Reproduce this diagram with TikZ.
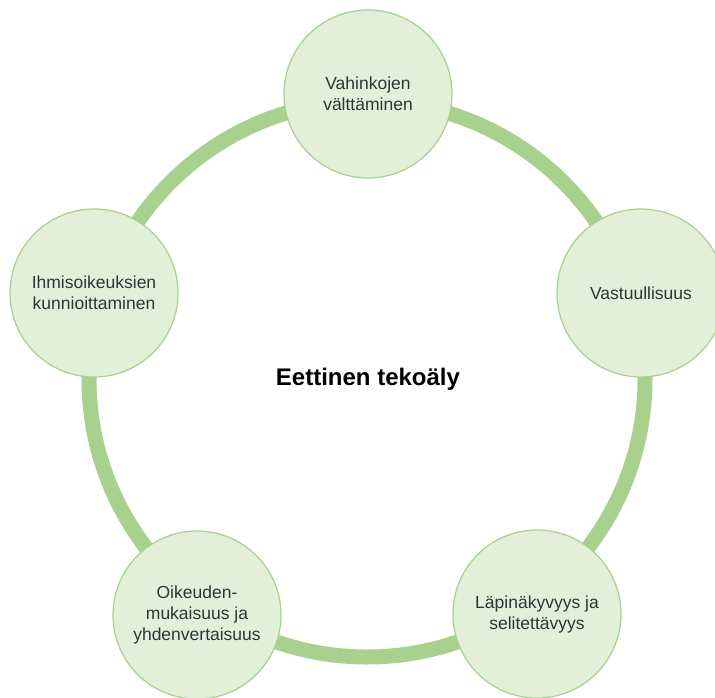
\documentclass[tikz,border=0pt]{standalone}
\usepackage{fontspec}
\setmainfont{Liberation Sans}
\definecolor{ringgreen}{HTML}{A9D18E}
\definecolor{nodefill}{HTML}{E2F0D9}
\definecolor{txtgray}{HTML}{333333}
\begin{document}
\begin{tikzpicture}[x=1pt,y=-1pt,
  topic/.style={circle, minimum size=168pt, inner sep=0pt, fill=nodefill,
    draw=ringgreen, line width=1.2pt, align=center, text=txtgray,
    font=\fontsize{17.5}{21}\selectfont},
  titlenode/.style={font=\bfseries\fontsize{24}{28}\selectfont, text=black, inner sep=0pt}]
\useasboundingbox (0,0) rectangle (715,698);
\clip (0,0) rectangle (715,698);
\fill[white] (0,0) rectangle (715,698);
\draw[ringgreen, line width=15pt] (367,379) circle[radius=278];
\node[topic] (harm) at (368,94) {Vahinkojen\\välttäminen};
\node[topic] (resp) at (641,293) {Vastuullisuus};
\node[topic] (transp) at (537,614) {Läpinäkyvyys ja\\selitettävyys};
\node[topic] (fair) at (197,615) {Oikeuden-\\mukaisuus ja\\yhdenvertaisuus};
\node[topic] (rights) at (94,293) {Ihmisoikeuksien\\kunnioittaminen};
\node[titlenode] (title) at (368,379) {Eettinen tekoäly};
\end{tikzpicture}
\end{document}
